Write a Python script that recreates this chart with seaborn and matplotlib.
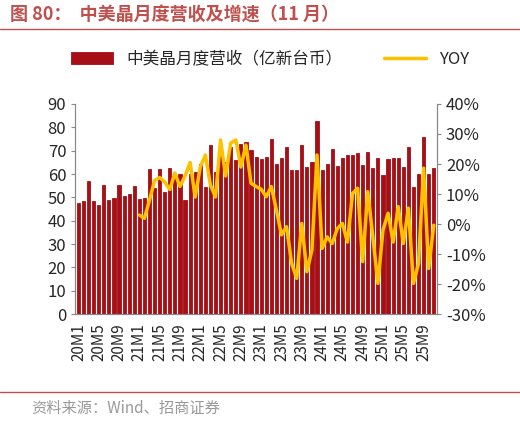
import matplotlib
matplotlib.use("Agg")
import matplotlib.pyplot as plt
import seaborn as sns
import numpy as np
import pandas as pd

months = [f"{y}M{m}" for y in range(20, 26) for m in range(1, 13)][:71]
revenue = [47.4, 48.4, 56.9, 48.3, 46.7, 55.1, 48.9, 49.7, 55.1, 50.7, 51.4, 54.9,
           49.1, 49.6, 62.0, 53.9, 62.3, 52.3, 62.4, 58.6, 59.9, 49.0, 60.0, 61.0,
           64.5, 54.5, 72.4, 61.0, 70.0, 65.0, 71.5, 66.0, 73.0,
           73.9, 70.3, 67.4, 66.4, 67.1, 75.0, 64.3, 66.7, 71.7, 61.7, 61.6, 72.3,
           62.9, 65.3, 82.9, 61.6, 64.3, 70.9, 63.4, 67.0, 68.1, 68.0, 69.1, 63.9,
           69.6, 62.7, 67.0, 59.6, 66.3, 66.9, 67.0, 63.0, 71.4, 54.6, 59.9, 75.9,
           59.9, 62.4]
yoy = [np.nan] * 12 + [3, 1.9, 8, 14.5, 15.5, 14, 11.5, 17, 12.5, 16, 20.5, 9,
       19, 23, 13, 9, 28, 16, 27, 28, 19, 26.3, 13.6, 12.5, 11.6, 9.1, 12.5,
       4.7, -3.6, -0.9, -13.1, -18.1, 0.2, -15.9, -8.7, 23, -8.1, -4.3, -6.5,
       -1.5, 0.2, -6, 10.2, 11.9, -12.5, 10.8, -4.3, -19.8, -2, 3.6, -6, 5.8,
       -6.5, 5.3, -19.8, -13.1, 18.6, -14.8, -0.4]
df = pd.DataFrame({"month": months, "rev": revenue, "yoy": yoy})
df["x"] = np.arange(len(df))

sns.set_style("white")
plt.rcParams['font.family'] = ['Noto Sans CJK SC', 'DejaVu Sans']

fig = plt.figure(figsize=(5.2, 4.21), dpi=100)
ax = fig.add_axes([0.145, 0.254, 0.695, 0.499])
sns.barplot(data=df, x="x", y="rev", color="#A50F15", width=0.62, ax=ax,
            label="中美晶月度营收（亿新台币）", saturation=1,
            edgecolor="#A50F15", linewidth=0.6, antialiased=True)
ax.set_ylim(0, 90)
ax.set_yticks(range(0, 91, 10))
ax.set_xlim(-0.6, len(df) - 0.4)
ax.set_xticks(range(0, len(df), 4))
ax.set_xticklabels(months[::4], rotation=90)
ax.set_xlabel(""); ax.set_ylabel("")
ax2 = ax.twinx()
sns.lineplot(data=df, x="x", y="yoy", color="#FFC000", lw=2.5, ax=ax2, label="YOY")
ax2.set_ylim(-30, 40)
ax2.set_yticks(range(-30, 41, 10))
ax2.set_yticklabels([f"{v}%" for v in range(-30, 41, 10)])
ax2.set_ylabel("")
for a in (ax, ax2):
    for s in a.spines.values():
        s.set_color("#888888")
    a.spines["top"].set_visible(False)
    a.tick_params(labelsize=12, length=3, color="#888888", direction="out")
ax.tick_params(axis="x", labelsize=11)
ax.tick_params(axis="y", left=True)
ax2.tick_params(axis="y", right=True)
h1, l1 = ax.get_legend_handles_labels()
h2, l2 = ax2.get_legend_handles_labels()
ax2.get_legend().remove()
if ax.get_legend():
    ax.get_legend().remove()
fig.legend(h1 + h2, l1 + l2, loc="upper center", bbox_to_anchor=(0.52, 0.915),
           ncol=2, frameon=False, fontsize=12, handlelength=2.5, columnspacing=2.5)

fig.text(0.02, 0.965, "图 80：  中美晶月度营收及增速（11 月）", color="#C0504D",
         fontsize=13, fontweight="bold", va="center")
fig.add_artist(plt.Line2D([0.0, 1.0], [0.93, 0.93], color="#C0504D", lw=1))
fig.add_artist(plt.Line2D([0.0, 1.0], [0.07, 0.07], color="#C0504D", lw=1))
fig.text(0.06, 0.03, "资料来源：Wind、招商证券", color="#999999", fontsize=11, va="center")
fig.savefig("out.png", dpi=100)
